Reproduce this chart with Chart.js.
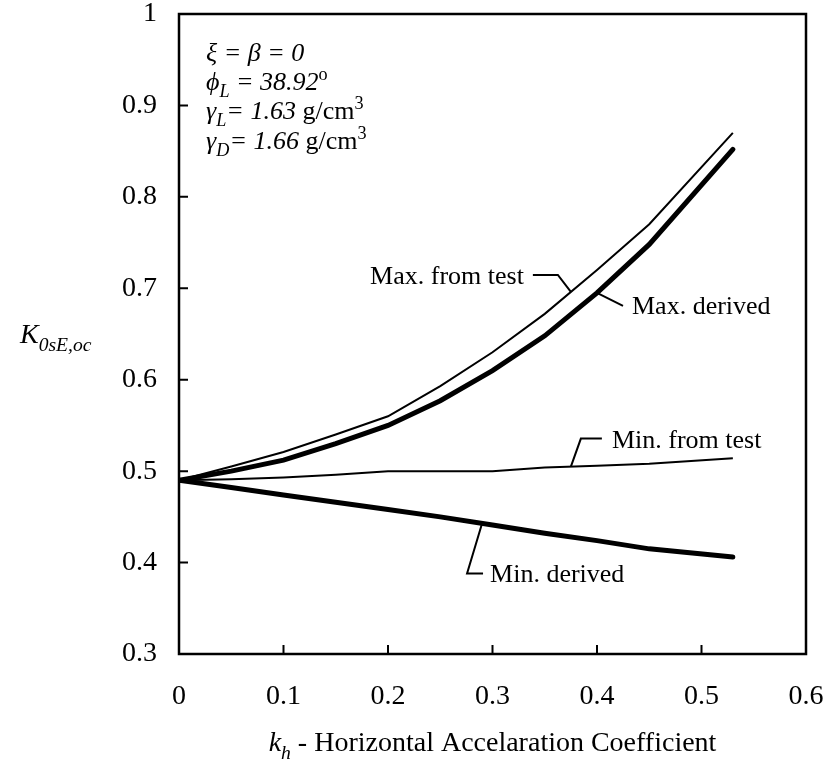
<!DOCTYPE html>
<html>
<head>
<meta charset="utf-8">
<script src="https://cdn.jsdelivr.net/npm/chart.js@4.4.0/dist/chart.umd.min.js"></script>
<style>
  body{margin:0;background:#fff;}
  #wrap{width:828px;height:765px;}
</style>
</head>
<body>
<div id="wrap"><canvas id="chart" width="828" height="765"></canvas></div>
<script>
// values
const kh=[0,0.05,0.1,0.15,0.2,0.25,0.3,0.35,0.4,0.45,0.53]
const maxTest=[0.49,0.505,0.521,0.54,0.56,0.593,0.63,0.672,0.72,0.77,0.87]
const maxDerived=[0.49,0.50,0.512,0.53,0.55,0.577,0.61,0.648,0.695,0.748,0.852]
const minTest=[0.49,0.491,0.493,0.496,0.5,0.5,0.5,0.504,0.506,0.508,0.514]
const minDerived=[0.49,0.482,0.474,0.466,0.458,0.45,0.441,0.432,0.424,0.415,0.406]
const xTicks=[0,0.1,0.2,0.3,0.4,0.5,0.6]
const yTicks=[0.3,0.4,0.5,0.6,0.7,0.8,0.9,1]

const SERIF='"Liberation Serif","Times New Roman",serif'

const pts=(ys)=>kh.map((x,i)=>({x:x,y:ys[i]}))

// value of a series at a given kh (linear between read points)
function at(ys,x){
    for(let i=1;i<kh.length;i++){
        if(x<=kh[i]){
            const t=(x-kh[i-1])/(kh[i]-kh[i-1])
            return ys[i-1]+t*(ys[i]-ys[i-1])
        }
    }
    return ys[ys.length-1]
}

// draw text made of pieces: [text, style] style = i | n | sub | supn
function rich(ctx,x,y,parts,size,align){
    const font=(p)=>{
        const s=(p[1]=='sub'||p[1]=='supn')?size*0.7:size
        const it=(p[1]=='i'||p[1]=='sub')?'italic ':''
        return it+s+'px '+SERIF
    }
    let w=0
    parts.forEach(p=>{ctx.font=font(p);w+=ctx.measureText(p[0]).width})
    let cx=x
    if(align=='right')cx=x-w
    if(align=='center')cx=x-w/2
    ctx.textBaseline='alphabetic'
    ctx.textAlign='left'
    parts.forEach(p=>{
        ctx.font=font(p)
        let dy=0
        if(p[1]=='sub')dy=size*0.28
        if(p[1]=='supn')dy=-size*0.38
        ctx.fillText(p[0],cx,y+dy)
        cx+=ctx.measureText(p[0]).width
    })
}

const decor={
    id:'decor',
    afterDraw(chart){
        const ctx=chart.ctx
        const xs=chart.scales.x, ys=chart.scales.y
        const a=chart.chartArea
        ctx.save()
        ctx.strokeStyle='#000'
        ctx.fillStyle='#000'
        // frame
        ctx.lineWidth=2.5
        ctx.strokeRect(a.left,a.top,a.right-a.left,a.bottom-a.top)
        // inward ticks
        ctx.lineWidth=2
        ctx.beginPath()
        xTicks.forEach(v=>{
            const px=xs.getPixelForValue(v)
            ctx.moveTo(px,a.bottom);ctx.lineTo(px,a.bottom-9)
        })
        yTicks.forEach(v=>{
            const py=ys.getPixelForValue(v)
            ctx.moveTo(a.left,py);ctx.lineTo(a.left+9,py)
        })
        ctx.stroke()

        // property block
        const bx=a.left+27, by=a.top
        rich(ctx,bx,by+47,[['ξ = β = 0','i']],26,'left')
        rich(ctx,bx,by+76,[['ϕ','i'],['L','sub'],[' = 38.92','i'],['o','supn']],26,'left')
        rich(ctx,bx,by+105,[['γ','i'],['L','sub'],['= 1.63','i'],[' g/cm','n'],['3','supn']],26,'left')
        rich(ctx,bx,by+135,[['γ','i'],['D','sub'],['= 1.66','i'],[' g/cm','n'],['3','supn']],26,'left')

        // series labels with leader lines
        const P=(x,arr)=>({x:xs.getPixelForValue(x),y:ys.getPixelForValue(at(arr,x))})
        ctx.lineWidth=2
        let p=P(0.375,maxTest)
        ctx.beginPath();ctx.moveTo(p.x,p.y);ctx.lineTo(p.x-13,p.y-17);ctx.lineTo(p.x-38,p.y-17);ctx.stroke()
        rich(ctx,p.x-47,p.y-8,[['Max. from test','n']],26,'right')

        p=P(0.40,maxDerived)
        ctx.beginPath();ctx.moveTo(p.x,p.y);ctx.lineTo(p.x+26,p.y+13);ctx.stroke()
        rich(ctx,p.x+35,p.y+21,[['Max. derived','n']],26,'left')

        p=P(0.375,minTest)
        ctx.beginPath();ctx.moveTo(p.x,p.y);ctx.lineTo(p.x+10,p.y-28);ctx.lineTo(p.x+31,p.y-28);ctx.stroke()
        rich(ctx,p.x+41,p.y-19,[['Min. from test','n']],26,'left')

        p=P(0.29,minDerived)
        ctx.beginPath();ctx.moveTo(p.x,p.y);ctx.lineTo(p.x-15,p.y+50);ctx.lineTo(p.x+1,p.y+50);ctx.stroke()
        rich(ctx,p.x+8,p.y+59,[['Min. derived','n']],26,'left')

        // axis titles
        rich(ctx,(a.left+a.right)/2,751,[['k','i'],['h','sub'],[' - Horizontal Accelaration Coefficient','n']],28,'center')
        rich(ctx,20,343,[['K','i'],['0sE,oc','sub']],28,'left')
        ctx.restore()
    }
}

const thin={borderColor:'#000',borderWidth:2,pointRadius:0,tension:0,fill:false}
const thick={borderColor:'#000',borderWidth:5,pointRadius:0,tension:0,fill:false,borderCapStyle:'round'}

new Chart(document.querySelector('#chart'),{
    type:'scatter',
    data:{
        datasets:[
            Object.assign({label:'Max. from test',data:pts(maxTest),showLine:true},thin),
            Object.assign({label:'Max. derived',data:pts(maxDerived),showLine:true},thick),
            Object.assign({label:'Min. from test',data:pts(minTest),showLine:true},thin),
            Object.assign({label:'Min. derived',data:pts(minDerived),showLine:true},thick),
        ]
    },
    options:{
        responsive:false,
        animation:false,
        events:[],
        layout:{padding:{top:14,right:22,left:0,bottom:0}},
        plugins:{legend:{display:false},tooltip:{enabled:false}},
        scales:{
            x:{
                type:'linear',min:0,max:0.6,
                afterBuildTicks:(s)=>{s.ticks=xTicks.map(v=>({value:v}))},
                afterFit:(s)=>{s.height=111;s.paddingLeft=0;s.paddingRight=0},
                grid:{display:false,drawTicks:false},
                border:{display:false},
                ticks:{padding:26,color:'#000',font:{family:SERIF,size:28},maxRotation:0,
                    callback:(v)=>String(v)}
            },
            y:{
                type:'linear',min:0.3,max:1,
                afterBuildTicks:(s)=>{s.ticks=yTicks.map(v=>({value:v}))},
                afterFit:(s)=>{s.width=179;s.paddingTop=0;s.paddingBottom=0},
                grid:{display:false,drawTicks:false},
                border:{display:false},
                ticks:{padding:22,color:'#000',font:{family:SERIF,size:28},
                    callback:(v)=>String(v)}
            }
        }
    },
    plugins:[decor]
})
</script>
</body>
</html>
